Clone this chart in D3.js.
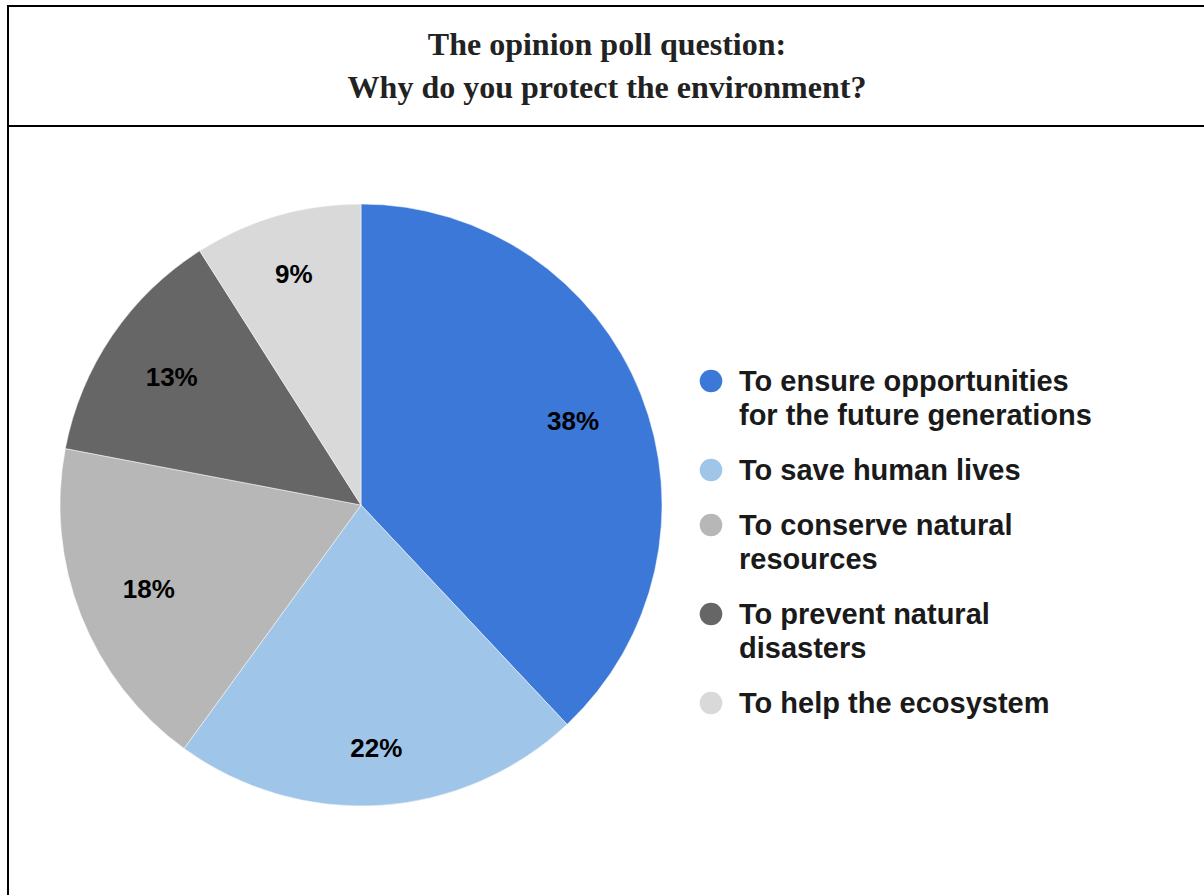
<!DOCTYPE html>
<html>
<head>
  <title> Opinion poll </title>
  <script src="https://d3js.org/d3.v7.min.js"></script>
  <style>
    body { margin: 0; background: #fff; }
  </style>
</head>
<body>
</body>
</html>
<script>
// Data
var categories = ["To ensure opportunities for the future generations",
  "To save human lives",
  "To conserve natural resources",
  "To prevent natural disasters",
  "To help the ecosystem"];
var shares = [38, 22, 18, 13, 9];
var colors = ["#3c78d8", "#9fc5e8", "#b7b7b7", "#666666", "#d9d9d9"];
var titleLines = ["The opinion poll question:", "Why do you protect the environment?"];

var width = 1204, height = 895;
var cx = 361, cy = 505, radius = 301;
var sansFont = "'Liberation Sans', Arial, sans-serif";

var svg = d3.select("body").append("svg")
  .attr("width", width).attr("height", height);

// frame and title box
svg.append("rect")
  .attr("x", 8).attr("y", 6).attr("width", 1210).attr("height", 900)
  .style("fill", "none").style("stroke", "#000").style("stroke-width", 2);
svg.append("line")
  .attr("x1", 8).attr("x2", width).attr("y1", 126).attr("y2", 126)
  .style("stroke", "#000").style("stroke-width", 2);

svg.selectAll("text.title").data(titleLines).enter()
  .append("text").attr("class", "title")
  .attr("x", 607)
  .attr("y", function(d, i) { return 55 + i * 43; })
  .attr("text-anchor", "middle")
  .style("font-family", "'Liberation Serif', 'Times New Roman', serif")
  .style("font-weight", "bold")
  .style("font-size", "32px")
  .style("fill", "#222")
  .text(function(d) { return d; });

var pieData = categories.map(function(c, i) { return {name: c, value: shares[i], color: colors[i]}; });

var pie = d3.pie().sort(null).value(function(d) { return d.value; });
var arc = d3.arc().innerRadius(0).outerRadius(radius);

var g = svg.append("g").attr("transform", "translate(" + cx + "," + cy + ")");

g.selectAll("path").data(pie(pieData)).enter()
  .append("path")
  .attr("d", arc)
  .style("fill", function(d) { return d.data.color; })
  .style("stroke", "#fff")
  .style("stroke-width", 0.5);

// slice labels: the outer corner of each label box sits on a fixed radius
var cornerR = 0.85 * radius;
g.selectAll("text").data(pie(pieData)).enter()
  .append("text")
  .attr("text-anchor", "middle")
  .attr("dy", "0.36em")
  .style("font-family", sansFont)
  .style("font-weight", "bold")
  .style("font-size", "26px")
  .style("fill", "#000")
  .text(function(d) { return d.data.value + "%"; })
  .attr("transform", function(d) {
    var a = (d.startAngle + d.endAngle) / 2;
    var ux = Math.sin(a), uy = -Math.cos(a);
    var w = this.getComputedTextLength() / 2, h = 9.5;
    var c = [ux >= 0 ? w : -w, uy >= 0 ? h : -h];
    var uc = ux * c[0] + uy * c[1];
    var r = -uc + Math.sqrt(uc * uc - (c[0] * c[0] + c[1] * c[1]) + cornerR * cornerR);
    return "translate(" + (r * ux) + "," + (r * uy) + ")";
  });

// legend with wrapped labels
var legend = svg.append("g");
var y = 381;
pieData.forEach(function(d) {
  legend.append("circle")
    .attr("cx", 711).attr("cy", y).attr("r", 11.3)
    .style("fill", d.color);
  var t = legend.append("text")
    .attr("x", 739)
    .style("font-family", sansFont)
    .style("font-weight", "bold")
    .style("font-size", "29px")
    .style("fill", "#1a1a1a");
  var words = d.name.split(" "), line = [], lines = 0;
  var ts = t.append("tspan").attr("x", 739).attr("y", y).attr("dy", "0.36em");
  words.forEach(function(w) {
    line.push(w);
    ts.text(line.join(" "));
    if (ts.node().getComputedTextLength() > 360 && line.length > 1) {
      line.pop();
      ts.text(line.join(" "));
      line = [w];
      lines++;
      ts = t.append("tspan").attr("x", 739).attr("y", y + lines * 34).attr("dy", "0.36em").text(w);
    }
  });
  y += lines * 34 + 55;
});
</script>
